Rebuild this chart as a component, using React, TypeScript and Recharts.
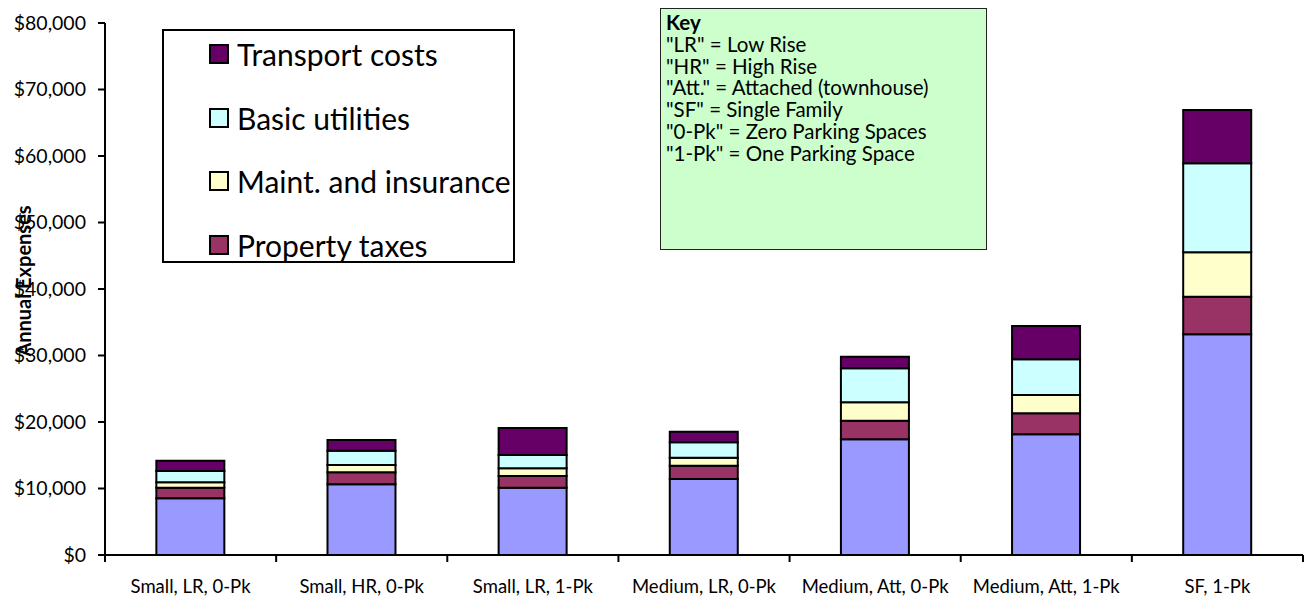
import React from 'react';
import { BarChart, Bar, XAxis, YAxis, Legend } from 'recharts';

const categories = [
  'Small, LR, 0-Pk',
  'Small, HR, 0-Pk',
  'Small, LR, 1-Pk',
  'Medium, LR, 0-Pk',
  'Medium, Att, 0-Pk',
  'Medium, Att, 1-Pk',
  'SF, 1-Pk',
];
const housing = [8530, 10630, 10120, 11430, 17400, 18150, 33190];
const propertyTaxes = [1590, 1810, 1760, 2000, 2800, 3150, 5650];
const maintenance = [810, 1090, 1160, 1200, 2760, 2760, 6680];
const utilities = [1700, 2150, 2000, 2320, 5110, 5370, 13380];
const transport = [1550, 1620, 4060, 1590, 1750, 5010, 8020];
const yTicks = [0, 10000, 20000, 30000, 40000, 50000, 60000, 70000, 80000];
const keyLines = [
  '"LR" = Low Rise',
  '"HR" = High Rise',
  '"Att." = Attached (townhouse)',
  '"SF" = Single Family',
  '"0-Pk" = Zero Parking Spaces',
  '"1-Pk" = One Parking Space',
];

const data = categories.map((name, i) => ({
  name,
  housing: housing[i],
  tax: propertyTaxes[i],
  maint: maintenance[i],
  util: utilities[i],
  transport: transport[i],
}));

// legend order is top of stack first, the base series is left out
const legendItems = [
  { label: 'Transport costs', color: '#660066' },
  { label: 'Basic utilities', color: '#CCFFFF' },
  { label: 'Maint. and insurance', color: '#FFFFCC' },
  { label: 'Property taxes', color: '#993366' },
];

const FONT = 'Lato, "Open Sans", sans-serif';
const W = 1306;
const H = 599;
const PLOT_LEFT = 105;
const PLOT_RIGHT = 1303;
const BAND = (PLOT_RIGHT - PLOT_LEFT) / categories.length;

const XTick = (props: any) => {
  const { x, y, payload, index } = props;
  const left = x - BAND / 2;
  return (
    <g>
      <line x1={left} y1={y - 8} x2={left} y2={y - 1} stroke='#000' strokeWidth={2} />
      {index === categories.length - 1 && (
        <line x1={x + BAND / 2} y1={y - 8} x2={x + BAND / 2} y2={y - 1} stroke='#000' strokeWidth={2} />
      )}
      <text x={x} y={y + 30} textAnchor='middle' fontSize={18.5} fontFamily={FONT} fill='#000'>
        {payload.value}
      </text>
    </g>
  );
};

const LegendBox = () => (
  <div
    style={{
      boxSizing: 'border-box',
      width: 353,
      height: 234,
      border: '2px solid #000',
      background: '#fff',
      display: 'flex',
      flexDirection: 'column',
      justifyContent: 'space-between',
      padding: '7px 0 0 45px',
      fontFamily: FONT,
      fontSize: 30,
      color: '#000',
    }}
  >
    {legendItems.map((it) => (
      <div key={it.label} style={{ display: 'flex', alignItems: 'center', height: 32, whiteSpace: 'nowrap' }}>
        <span
          style={{
            boxSizing: 'border-box',
            flex: 'none',
            width: 20,
            height: 20,
            background: it.color,
            border: '2px solid #000',
            marginRight: 8,
          }}
        />
        <span>{it.label}</span>
      </div>
    ))}
  </div>
);

export default function App() {
  return (
    <div style={{ position: 'absolute', left: 0, top: 0, width: W, height: H, background: '#fff' }}>
      <BarChart
        width={W}
        height={H}
        data={data}
        margin={{ top: 23, right: W - PLOT_RIGHT, bottom: 0, left: 0 }}
        barCategoryGap='30%'
      >
        <XAxis
          dataKey='name'
          height={44}
          axisLine={{ stroke: '#000', strokeWidth: 2 }}
          tickLine={false}
          tick={<XTick />}
          interval={0}
        />
        <YAxis
          width={PLOT_LEFT}
          domain={[0, 80000]}
          ticks={yTicks}
          interval={0}
          axisLine={{ stroke: '#000', strokeWidth: 2 }}
          tickLine={{ stroke: '#000', strokeWidth: 2 }}
          tickSize={7}
          tickMargin={12}
          tick={{ fill: '#000', fontSize: 19.5, fontFamily: FONT }}
          tickFormatter={(v: number) => '$' + v.toLocaleString('en-US')}
          label={{
            content: (p: any) => {
              const vb = p.viewBox;
              const cx = 23;
              const cy = vb.y + vb.height / 2 - 8;
              return (
                <text
                  x={cx}
                  y={cy}
                  transform={`rotate(-90, ${cx}, ${cy})`}
                  textAnchor='middle'
                  dominantBaseline='central'
                  fontSize={20}
                  fontWeight='bold'
                  fontFamily={FONT}
                  fill='#000'
                >
                  Annual Expenses
                </text>
              );
            },
          }}
        />
        <Legend
          layout='horizontal'
          verticalAlign='middle'
          content={() => <LegendBox />}
          wrapperStyle={{ left: 162, top: 29, width: 353, height: 234 }}
        />
        <Bar dataKey='housing' name='Housing' stackId='a' fill='#9999FF' stroke='#000' strokeWidth={2} isAnimationActive={false} legendType='none' />
        <Bar dataKey='tax' name='Property taxes' stackId='a' fill='#993366' stroke='#000' strokeWidth={2} isAnimationActive={false} />
        <Bar dataKey='maint' name='Maint. and insurance' stackId='a' fill='#FFFFCC' stroke='#000' strokeWidth={2} isAnimationActive={false} />
        <Bar dataKey='util' name='Basic utilities' stackId='a' fill='#CCFFFF' stroke='#000' strokeWidth={2} isAnimationActive={false} />
        <Bar dataKey='transport' name='Transport costs' stackId='a' fill='#660066' stroke='#000' strokeWidth={2} isAnimationActive={false} />
      </BarChart>
      <div
        style={{
          position: 'absolute',
          left: 660,
          top: 8,
          width: 327,
          height: 242,
          boxSizing: 'border-box',
          background: '#CCFFCC',
          border: '1.5px solid #222',
          padding: '3px 5px',
          fontFamily: FONT,
          fontSize: 20.5,
          lineHeight: '21.8px',
          color: '#000',
          whiteSpace: 'nowrap',
        }}
      >
        <div style={{ fontWeight: 'bold' }}>Key</div>
        {keyLines.map((l) => (
          <div key={l}>{l}</div>
        ))}
      </div>
    </div>
  );
}
